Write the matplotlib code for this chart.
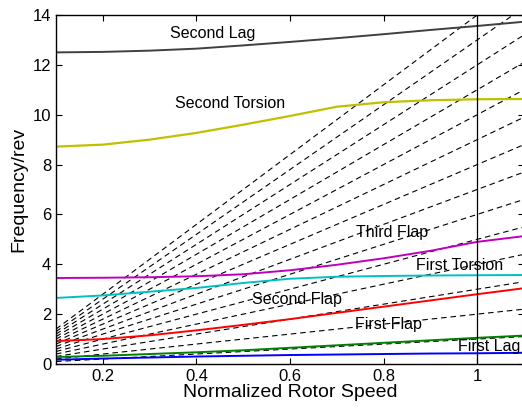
import numpy as np
import matplotlib
matplotlib.use('Agg')
import matplotlib.pyplot as plt

plt.rcParams['font.family'] = ['Liberation Sans', 'DejaVu Sans']

# normalized rotor speed grid
speed = [0.1, 0.2, 0.3, 0.4, 0.5, 0.6, 0.7, 0.8, 0.9, 1.0, 1.1]

# modal frequencies (per rev)
second_lag = [12.5, 12.52, 12.57, 12.65, 12.78, 12.92, 13.07, 13.23, 13.4, 13.56, 13.73]
second_torsion = [8.72, 8.8, 9.0, 9.27, 9.6, 9.95, 10.32, 10.5, 10.58, 10.62, 10.63]
third_flap = [3.45, 3.46, 3.48, 3.52, 3.6, 3.76, 3.98, 4.24, 4.54, 4.9, 5.13]
first_torsion = [2.65, 2.75, 2.9, 3.05, 3.25, 3.42, 3.5, 3.53, 3.55, 3.56, 3.57]
second_flap = [0.92, 1.0, 1.15, 1.35, 1.57, 1.8, 2.05, 2.3, 2.55, 2.8, 3.04]
first_flap = [0.28, 0.33, 0.4, 0.47, 0.55, 0.65, 0.75, 0.85, 0.95, 1.05, 1.14]
first_lag = [0.17, 0.22, 0.26, 0.3, 0.33, 0.36, 0.38, 0.4, 0.42, 0.43, 0.45]

# per-rev harmonics for the fan lines
harmonics = list(range(1, 15))

fig = plt.figure(figsize=(5.22, 4.11), dpi=100)
ax = fig.add_axes([56/522, 47/411, 468/522, 349/411])

sp = np.array(speed)
for k in harmonics:
    ax.plot(sp, k*sp, color='k', ls='--', lw=0.8, dashes=(5, 3.5))

ax.plot(speed, second_lag, color='#404040', lw=1.4)
ax.plot(speed, second_torsion, color='#c0c000', lw=1.6)
ax.plot(speed, third_flap, color='#c000c0', lw=1.4)
ax.plot(speed, first_torsion, color='#00c0c0', lw=1.4)
ax.plot(speed, second_flap, color='#ff0000', lw=1.4)
ax.plot(speed, first_flap, color='#008000', lw=1.4)
ax.plot(speed, first_lag, color='#0000ff', lw=1.4)

ax.axvline(1.0, color='k', lw=0.9)

fs = 11.5
ax.text(0.435, 13.24, 'Second Lag', ha='center', va='center', fontsize=fs)
ax.text(0.472, 10.43, 'Second Torsion', ha='center', va='center', fontsize=fs)
ax.text(0.819, 5.28, 'Third Flap', ha='center', va='center', fontsize=fs)
ax.text(0.962, 3.97, 'First Torsion', ha='center', va='center', fontsize=fs)
ax.text(0.615, 2.57, 'Second Flap', ha='center', va='center', fontsize=fs)
ax.text(0.81, 1.59, 'First Flap', ha='center', va='center', fontsize=fs)
ax.text(1.025, 0.69, 'First Lag', ha='center', va='center', fontsize=fs)

ax.set_xlim(0.1, 1.1)
ax.set_ylim(0, 14)
ax.set_xticks([0.2, 0.4, 0.6, 0.8, 1.0])
ax.set_xticklabels(['0.2', '0.4', '0.6', '0.8', '1'])
ax.set_yticks([0, 2, 4, 6, 8, 10, 12, 14])
ax.tick_params(direction='in', top=True, right=True, labelsize=12, length=4, width=0.8)
for s in ax.spines.values():
    s.set_linewidth(1.0)

ax.set_xlabel('Normalized Rotor Speed', fontsize=14, labelpad=0)
ax.set_ylabel('Frequency/rev', fontsize=14, labelpad=4)

plt.savefig('out.png', dpi=100)
